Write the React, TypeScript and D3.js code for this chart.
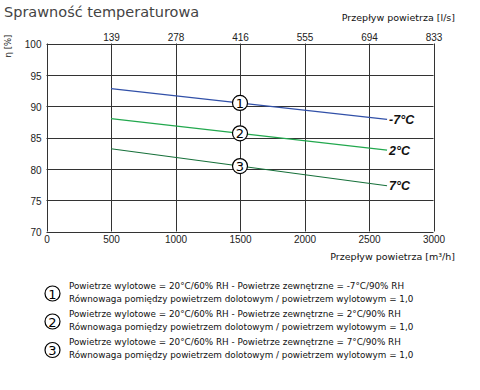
import React, { useRef, useEffect } from "react";
import * as d3 from "d3";

// values
const flowTicks = [0, 500, 1000, 1500, 2000, 2500, 3000];
const flowLsLabels = ["139", "278", "416", "555", "694", "833"];
const etaTicks = [70, 75, 80, 85, 90, 95, 100];
const lineFlow = [500, 2640];
const etaMinus7 = [92.8, 87.9];
const eta2 = [88.0, 83.0];
const eta7 = [83.2, 77.3];
const curveLabels = ["-7°C", "2°C", "7°C"];
const markerFlow = 1500;
const outsideAir = ["-7°C/90% RH", "2°C/90% RH", "7°C/90% RH"];

const W = 480;
const H = 390;
const smallFont = "'DejaVu Sans', sans-serif";
const numFont = "'Liberation Sans', Arial, sans-serif";

function App()
{
  const svgRef = useRef(null);

  useEffect(() =>
  {
    const svg = d3.select(svgRef.current);
    svg.selectAll("*").remove();

    const x = d3.scaleLinear().domain([0, 3000]).range([46.5, 433.5]);
    const y = d3.scaleLinear().domain([70, 100]).range([231.5, 43.5]);

    // title + axis titles
    svg.append("text")
      .attr("x", 4).attr("y", 17)
      .attr("font-family", smallFont).attr("font-size", 14.5)
      .attr("fill", "#444")
      .text("Sprawność temperaturowa");

    svg.append("text")
      .attr("x", 455).attr("y", 21)
      .attr("text-anchor", "end")
      .attr("font-family", smallFont).attr("font-size", 9.5)
      .attr("fill", "#111")
      .text("Przepływ powietrza [l/s]");

    svg.append("text")
      .attr("x", 455).attr("y", 260)
      .attr("text-anchor", "end")
      .attr("font-family", smallFont).attr("font-size", 9.5)
      .attr("fill", "#111")
      .text("Przepływ powietrza [m³/h]");

    svg.append("text")
      .attr("transform", "translate(11,46) rotate(-90)")
      .attr("text-anchor", "middle")
      .attr("font-family", smallFont).attr("font-size", 8.5)
      .attr("fill", "#111")
      .text("η [%]");

    // grid
    const grid = svg.append("g").attr("stroke", "#333").attr("stroke-width", 1);
    grid.selectAll(".vgrid")
      .data(flowTicks)
      .join("line")
      .attr("x1", (d) => Math.round(x(d)) + 0.5)
      .attr("x2", (d) => Math.round(x(d)) + 0.5)
      .attr("y1", y(100)).attr("y2", y(70));
    grid.selectAll(".hgrid")
      .data(etaTicks)
      .join("line")
      .attr("x1", x(0)).attr("x2", x(3000))
      .attr("y1", (d) => Math.round(y(d)) + 0.5)
      .attr("y2", (d) => Math.round(y(d)) + 0.5);

    // bottom axis labels
    const xAxis = d3.axisBottom(x)
      .tickValues(flowTicks)
      .tickFormat(d3.format("d"))
      .tickSize(0).tickPadding(4);
    const gx = svg.append("g").attr("transform", `translate(0,${y(70)})`).call(xAxis);
    gx.select(".domain").remove();
    gx.selectAll("text").attr("font-family", numFont).attr("font-size", 10).attr("fill", "#222");

    // top axis labels (l/s)
    const xTop = d3.axisTop(x)
      .tickValues(flowTicks.slice(1))
      .tickFormat((d, i) => flowLsLabels[i])
      .tickSize(0).tickPadding(3);
    const gt = svg.append("g").attr("transform", `translate(0,${y(100)})`).call(xTop);
    gt.select(".domain").remove();
    gt.selectAll("text").attr("font-family", numFont).attr("font-size", 10).attr("fill", "#222");

    // left axis labels
    const yAxis = d3.axisLeft(y).tickValues(etaTicks).tickSize(0).tickPadding(5);
    const gy = svg.append("g").attr("transform", `translate(${x(0)},1)`).call(yAxis);
    gy.select(".domain").remove();
    gy.selectAll("text").attr("font-family", numFont).attr("font-size", 10).attr("fill", "#222");

    // curves
    const series = [
      { values: etaMinus7, color: "#3150a8", label: curveLabels[0] },
      { values: eta2, color: "#22a84e", label: curveLabels[1] },
      { values: eta7, color: "#16703a", label: curveLabels[2] },
    ];
    const line = d3.line().x((d) => x(d[0])).y((d) => y(d[1]));

    series.forEach((s, i) =>
    {
      const pts = lineFlow.map((f, j) => [f, s.values[j]]);
      svg.append("path")
        .attr("d", line(pts))
        .attr("fill", "none")
        .attr("stroke", s.color)
        .attr("stroke-width", 1.2);

      svg.append("text")
        .attr("x", x(lineFlow[1]) + 2)
        .attr("y", y(s.values[1]) + 4.5)
        .attr("font-family", numFont)
        .attr("font-size", 12.5)
        .attr("font-weight", "bold")
        .attr("font-style", "italic")
        .attr("fill", "#111")
        .text(s.label);

      // numbered marker on the curve
      const t = (markerFlow - lineFlow[0]) / (lineFlow[1] - lineFlow[0]);
      const eta = d3.interpolateNumber(s.values[0], s.values[1])(t);
      const m = svg.append("g").attr("transform", `translate(${x(markerFlow)},${y(eta)})`);
      m.append("circle").attr("r", 7.5).attr("fill", "#fff").attr("stroke", "#000").attr("stroke-width", 1.2);
      m.append("text")
        .attr("text-anchor", "middle").attr("y", 5)
        .attr("font-family", smallFont).attr("font-size", 13)
        .attr("fill", "#000")
        .text(i + 1);
    });

    // legend
    const legend = svg.append("g");
    outsideAir.forEach((a, i) =>
    {
      const cy = [293.5, 321.5, 350][i];
      legend.append("circle")
        .attr("cx", 52.5).attr("cy", cy).attr("r", 7.5)
        .attr("fill", "#fff").attr("stroke", "#000").attr("stroke-width", 1.2);
      legend.append("text")
        .attr("x", 52.5).attr("y", cy + 5)
        .attr("text-anchor", "middle")
        .attr("font-family", smallFont).attr("font-size", 13)
        .text(i + 1);
      legend.append("text")
        .attr("x", 69).attr("y", cy - 5)
        .attr("font-family", smallFont).attr("font-size", 8.8)
        .attr("fill", "#111")
        .text(`Powietrze wylotowe = 20°C/60% RH - Powietrze zewnętrzne = ${a}`);
      legend.append("text")
        .attr("x", 69).attr("y", cy + 8)
        .attr("font-family", smallFont).attr("font-size", 8.8)
        .attr("fill", "#111")
        .text("Równowaga pomiędzy powietrzem dolotowym / powietrzem wylotowym = 1,0");
    });
  }, []);

  return (
    <svg
      ref={svgRef}
      width={W}
      height={H}
      style={{ position: "absolute", left: 0, top: 0, background: "#fff" }}
    />
  );
}

export default App;
